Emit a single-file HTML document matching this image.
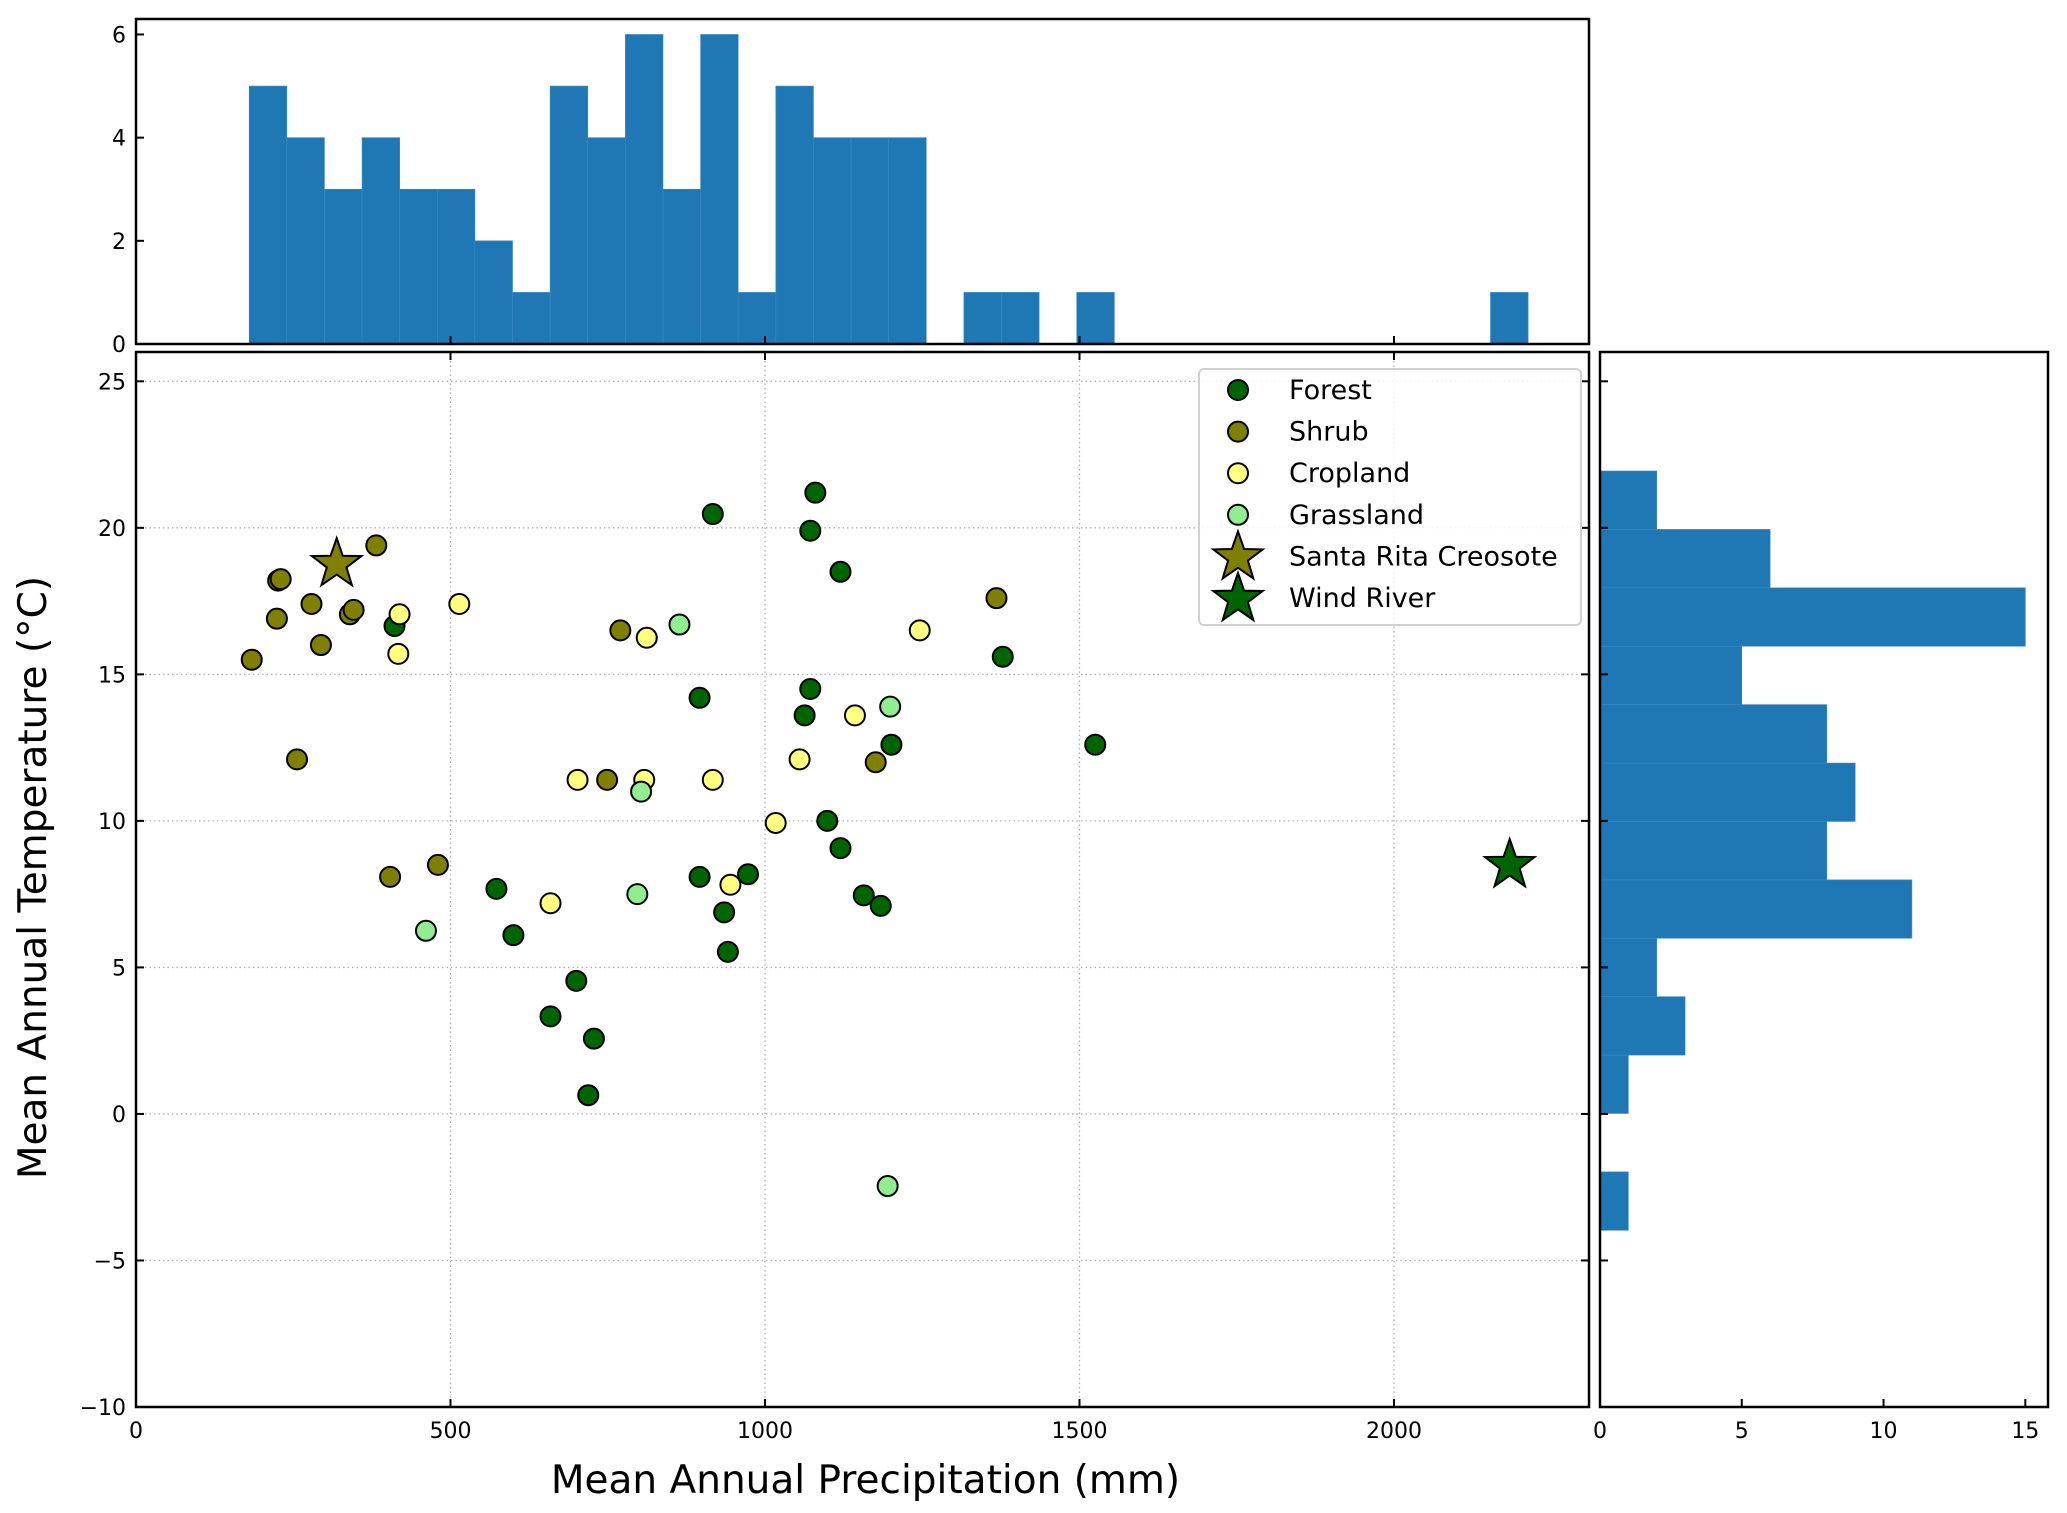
<!DOCTYPE html>
<html><head><meta charset="utf-8"><style>
html,body{margin:0;padding:0;background:#fff;}
svg{display:block;font-family:"DejaVu Sans","Liberation Sans",sans-serif;}
</style></head><body>
<svg id="chart" width="2067" height="1513" viewBox="0 0 2067 1513" xmlns="http://www.w3.org/2000/svg"></svg>
<script>
// ---- data ----
const forestX=[411,917,1080,1072,1120,1378,896,1072,1063,1201,1525,1099,1120,573,896,973,1157,1184,935,600,941,700,659,728,719];
const forestY=[16.65,20.47,21.2,19.9,18.5,15.6,14.2,14.5,13.6,12.6,12.6,10.0,9.07,7.68,8.09,8.18,7.46,7.1,6.88,6.1,5.53,4.54,3.33,2.57,0.64];
const shrubX=[184,224,226,230,279,294,340,346,382,256,770,749,1176,1368,404,480];
const shrubY=[15.5,16.9,18.2,18.25,17.4,16.0,17.05,17.2,19.4,12.1,16.5,11.4,12.0,17.6,8.09,8.5];
const cropX=[514,419,417,812,1246,1143,1055,702,808,917,1017,945,659];
const cropY=[17.4,17.05,15.7,16.25,16.5,13.6,12.1,11.4,11.4,11.4,9.93,7.82,7.19];
const grassX=[864,1199,803,797,461,1195];
const grassY=[16.7,13.9,11.0,7.5,6.25,-2.46];
const santaRita=[319,18.76];
const windRiver=[2184,8.49];
const precipCounts=[5,4,3,4,3,3,2,1,5,4,6,3,6,1,5,4,4,4,0,1,1,0,1,0,0,0,0,0,0,0,0,0,0,1];
const precipBinStart=180, precipBinWidth=59.8;
const tempCounts=[1,0,1,3,2,11,8,9,8,5,15,6,2];
const tempBinStart=-3.97, tempBinWidth=1.993;
const xTicks=[0,500,1000,1500,2000];
const yTicks=[-10,-5,0,5,10,15,20,25];
const topHistTicks=[0,2,4,6];
const rightHistTicks=[0,5,10,15];
// ---- layout ----
const M={l:136,r:1589,t:352,b:1407};
const TH={t:19,b:344};
const RH={l:1600,r:2048};
const xMax=2310, yMin=-10, yMax=26, thMax=6.3, rhMax=15.8;
const X=v=>M.l+(v/xMax)*(M.r-M.l);
const Y=v=>M.b-(v-yMin)/(yMax-yMin)*(M.b-M.t);
const THY=v=>TH.b-(v/thMax)*(TH.b-TH.t);
const RHX=v=>RH.l+(v/rhMax)*(RH.r-RH.l);
const svg=document.getElementById('chart');
const NS='http://www.w3.org/2000/svg';
function mk(tag,attrs,parent){const e=document.createElementNS(NS,tag);for(const k in attrs)e.setAttribute(k,attrs[k]);(parent||svg).appendChild(e);return e;}
function txt(s,attrs,parent){const e=mk('text',attrs,parent);e.textContent=s;return e;}
const BLUE='#1f77b4';
const FS=22;
// ---- top histogram ----
const gTop=mk('g',{});


precipCounts.forEach((c,i)=>{if(!c)return;const x0=X(precipBinStart+i*precipBinWidth),x1=X(precipBinStart+(i+1)*precipBinWidth);
const r=mk('rect',{x:x0,y:THY(c),width:x1-x0,height:THY(0)-THY(c),fill:BLUE,stroke:'#3a8ac4','stroke-width':0.6},gTop);

});
mk('rect',{x:M.l,y:TH.t,width:M.r-M.l,height:TH.b-TH.t,fill:'none',stroke:'#000','stroke-width':2.5},gTop);
topHistTicks.forEach(t=>{const y=THY(t);mk('line',{x1:M.l,x2:M.l+8,y1:y,y2:y,stroke:'#000','stroke-width':2},gTop);
const l=txt(String(t),{x:M.l-10,y:y+8,'text-anchor':'end','font-size':FS},gTop);

});
xTicks.forEach(t=>{const x=X(t);mk('line',{x1:x,x2:x,y1:TH.b,y2:TH.b-8,stroke:'#000','stroke-width':2},gTop);});
// ---- right histogram ----
const gR=mk('g',{});


tempCounts.forEach((c,i)=>{if(!c)return;const y0=Y(tempBinStart+(i+1)*tempBinWidth),y1=Y(tempBinStart+i*tempBinWidth);
const r=mk('rect',{x:RH.l,y:y0,width:RHX(c)-RH.l,height:y1-y0,fill:BLUE,stroke:'#3a8ac4','stroke-width':0.6},gR);

});
mk('rect',{x:RH.l,y:M.t,width:RH.r-RH.l,height:M.b-M.t,fill:'none',stroke:'#000','stroke-width':2.5},gR);
rightHistTicks.forEach(t=>{const x=RHX(t);mk('line',{x1:x,x2:x,y1:M.b,y2:M.b-8,stroke:'#000','stroke-width':2},gR);
const l=txt(String(t),{x:x,y:M.b+31,'text-anchor':'middle','font-size':FS},gR);

});
yTicks.forEach(t=>{const y=Y(t);mk('line',{x1:RH.l,x2:RH.l+8,y1:y,y2:y,stroke:'#000','stroke-width':2},gR);});
// ---- main scatter ----
const gM=mk('g',{});


xTicks.forEach(t=>{const x=X(t);mk('line',{x1:x,x2:x,y1:M.t,y2:M.b,stroke:'#b0b0b0','stroke-width':1.3,'stroke-dasharray':'1.5,3'},gM);});
yTicks.forEach(t=>{const y=Y(t);mk('line',{x1:M.l,x2:M.r,y1:y,y2:y,stroke:'#b0b0b0','stroke-width':1.3,'stroke-dasharray':'1.5,3'},gM);});
function pts(xs,ys,fill,name){xs.forEach((x,i)=>{const c=mk('circle',{cx:X(x),cy:Y(ys[i]),r:10,fill:fill,stroke:'#000','stroke-width':2},gM);

});}
pts(forestX,forestY,'#006400','forest');
pts(shrubX,shrubY,'#808000','shrub');
pts(cropX,cropY,'#ffff80','cropland');
pts(grassX,grassY,'#90ee90','grassland');
function starPath(cx,cy,R){const r=R*0.4;let d='';for(let i=0;i<10;i++){const a=-Math.PI/2+i*Math.PI/5;const rr=i%2?r:R;d+=(i?'L':'M')+(cx+rr*Math.cos(a)).toFixed(1)+','+(cy+rr*Math.sin(a)).toFixed(1);}return d+'Z';}
const s1=mk('path',{d:starPath(X(santaRita[0]),Y(santaRita[1]),26),fill:'#808000',stroke:'#000','stroke-width':2},gM);


const s2=mk('path',{d:starPath(X(windRiver[0]),Y(windRiver[1]),26),fill:'#006400',stroke:'#000','stroke-width':2},gM);


mk('rect',{x:M.l,y:M.t,width:M.r-M.l,height:M.b-M.t,fill:'none',stroke:'#000','stroke-width':2.5},gM);
xTicks.forEach(t=>{const x=X(t);mk('line',{x1:x,x2:x,y1:M.b,y2:M.b-8,stroke:'#000','stroke-width':2},gM);
mk('line',{x1:x,x2:x,y1:M.t,y2:M.t+8,stroke:'#000','stroke-width':2},gM);
const l=txt(String(t),{x:x,y:M.b+31,'text-anchor':'middle','font-size':FS},gM);

});
yTicks.forEach(t=>{const y=Y(t);mk('line',{x1:M.l,x2:M.l+8,y1:y,y2:y,stroke:'#000','stroke-width':2},gM);
mk('line',{x1:M.r,x2:M.r-8,y1:y,y2:y,stroke:'#000','stroke-width':2},gM);
const l=txt((t<0?'\u2212':'')+Math.abs(t),{x:M.l-10,y:y+8,'text-anchor':'end','font-size':FS},gM);

});
const xl=txt('Mean Annual Precipitation (mm)',{x:(M.l+M.r)/2+3,y:1493,'text-anchor':'middle','font-size':39});


const yl=txt('Mean Annual Temperature (\u00B0C)',{x:0,y:0,'text-anchor':'middle','font-size':39,transform:'translate(46,'+((M.t+M.b)/2-2)+') rotate(-90)'});


// ---- legend ----
const gL=mk('g',{});


mk('rect',{x:1199,y:369,width:382,height:256,rx:5,fill:'#fff','fill-opacity':0.85,stroke:'#d0d0d0','stroke-width':2},gL);
const legNames=['Forest','Shrub','Cropland','Grassland','Santa Rita Creosote','Wind River'];
const legFill=['#006400','#808000','#ffff80','#90ee90','#808000','#006400'];
legNames.forEach((n,i)=>{const y=390+i*41.6;const g=mk('g',{},gL);


if(i<4)mk('circle',{cx:1238,cy:y,r:10,fill:legFill[i],stroke:'#000','stroke-width':2},g);
else mk('path',{d:starPath(1238,y+1,26),fill:legFill[i],stroke:'#000','stroke-width':2},g);
txt(n,{x:1289,y:y+9,'font-size':27},g);});
</script>
</body></html>
